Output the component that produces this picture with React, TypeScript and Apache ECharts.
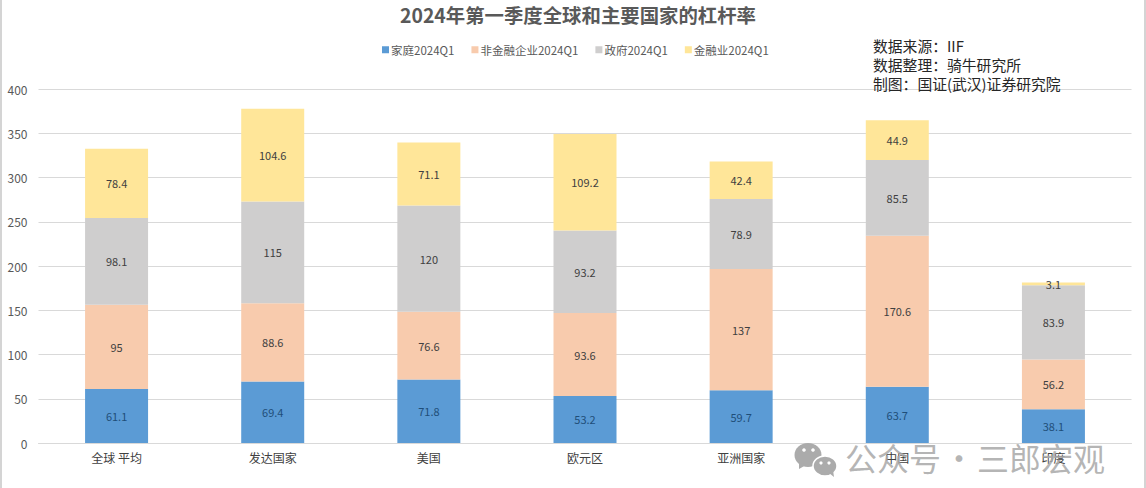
import React, { useEffect, useRef } from "react";
import * as echarts from "echarts";

const categories = ["全球 平均", "发达国家", "美国", "欧元区", "亚洲国家", "中国", "印度"];
const household = [61.1, 69.4, 71.8, 53.2, 59.7, 63.7, 38.1];
const nonFinancial = [95, 88.6, 76.6, 93.6, 137, 170.6, 56.2];
const government = [98.1, 115, 120, 93.2, 78.9, 85.5, 83.9];
const financial = [78.4, 104.6, 71.1, 109.2, 42.4, 44.9, 3.1];
const seriesNames = ["家庭2024Q1", "非金融企业2024Q1", "政府2024Q1", "金融业2024Q1"];
const seriesColors = ["#5B9BD5", "#F8CBAD", "#CFCECE", "#FFE699"];
const labelColors = ["#1F4E79", "#404040", "#404040", "#404040"];
const sourceLines = ["数据来源：IIF", "数据整理：骑牛研究所", "制图：国证(武汉)证券研究院"];
const titleText = "2024年第一季度全球和主要国家的杠杆率";
const watermark = "公众号\u200a·\u200a三郎宏观";

const FONT = '"Noto Sans CJK SC", "Noto Sans", sans-serif';

export default function App() {
  const ref = useRef<HTMLDivElement>(null);
  useEffect(() => {
    document.body.style.margin = "0";
    const chart = echarts.init(ref.current!, undefined, { renderer: "svg" });
    const values = [household, nonFinancial, government, financial];
    const iconFill = "#ababab";
    chart.setOption({
      animation: false,
      backgroundColor: "#ffffff",
      textStyle: { fontFamily: FONT },
      title: {
        text: titleText,
        left: 573,
        top: 0,
        textAlign: "center",
        textStyle: { fontFamily: FONT, fontSize: 19.4, fontWeight: "bold", color: "#595959" },
      },
      legend: {
        data: seriesNames,
        left: 377,
        top: 39,
        icon: "rect",
        itemWidth: 7,
        itemHeight: 7,
        itemGap: 17,
        textStyle: { fontFamily: FONT, fontSize: 11.5, color: "#595959", padding: [0, 0, 0, -3] },
      },
      grid: { left: 38.5, right: 14.5, top: 89, bottom: 45 },
      xAxis: {
        type: "category",
        data: categories,
        axisTick: { show: false },
        axisLine: { lineStyle: { color: "#d9d9d9", width: 1 } },
        axisLabel: { fontFamily: FONT, fontSize: 12, color: "#404040", margin: 8 },
      },
      yAxis: {
        type: "value",
        min: 0,
        max: 400,
        interval: 50,
        axisLine: { show: false },
        axisTick: { show: false },
        axisLabel: { fontFamily: FONT, fontSize: 12, color: "#595959", margin: 11 },
        splitLine: { lineStyle: { color: "#d9d9d9", width: 1 } },
      },
      series: seriesNames.map((name, i) => ({
        name,
        type: "bar",
        stack: "total",
        barWidth: 63,
        data: values[i],
        itemStyle: { color: seriesColors[i] },
        label: {
          show: true,
          position: "inside",
          fontFamily: FONT,
          fontSize: 11,
          color: labelColors[i],
        },
      })),
      graphic: [
        { type: "rect", silent: true, shape: { x: 0, y: 0, width: 2, height: 488 }, style: { fill: "#d4d4d4" } },
        { type: "rect", silent: true, shape: { x: 1144, y: 0, width: 2, height: 488 }, style: { fill: "#d4d4d4" } },
        ...sourceLines.map((text, i) => ({
          type: "text",
          silent: true,
          x: 873,
          y: 38 + i * 19,
          z: 10,
          style: { text, fontFamily: FONT, fontSize: 14.8, fill: "#262626" },
        })),
        { type: "ellipse", silent: true, z: 20, shape: { cx: 808, cy: 455, rx: 13.5, ry: 12 }, style: { fill: iconFill } },
        { type: "polygon", silent: true, z: 20, shape: { points: [[799, 462], [806, 465], [799, 469]] }, style: { fill: iconFill } },
        { type: "circle", silent: true, z: 21, shape: { cx: 804, cy: 450, r: 1.8 }, style: { fill: "#fff" } },
        { type: "circle", silent: true, z: 21, shape: { cx: 813, cy: 450, r: 1.8 }, style: { fill: "#fff" } },
        { type: "ellipse", silent: true, z: 22, shape: { cx: 825, cy: 466, rx: 12, ry: 10 }, style: { fill: iconFill, stroke: "#fff", lineWidth: 1.5 } },
        { type: "polygon", silent: true, z: 22, shape: { points: [[829, 473], [834, 477], [833, 470]] }, style: { fill: iconFill } },
        { type: "circle", silent: true, z: 23, shape: { cx: 821, cy: 463, r: 1.6 }, style: { fill: "#fff" } },
        { type: "circle", silent: true, z: 23, shape: { cx: 829, cy: 463, r: 1.6 }, style: { fill: "#fff" } },
        {
          type: "text",
          silent: true,
          x: 845,
          y: 441,
          z: 24,
          style: { text: watermark, fontFamily: FONT, fontSize: 32, fill: "#a8a8a8", opacity: 0.85 },
        },
      ],
    });
    return () => chart.dispose();
  }, []);
  return <div ref={ref} style={{ width: 1146, height: 488 }} />;
}
